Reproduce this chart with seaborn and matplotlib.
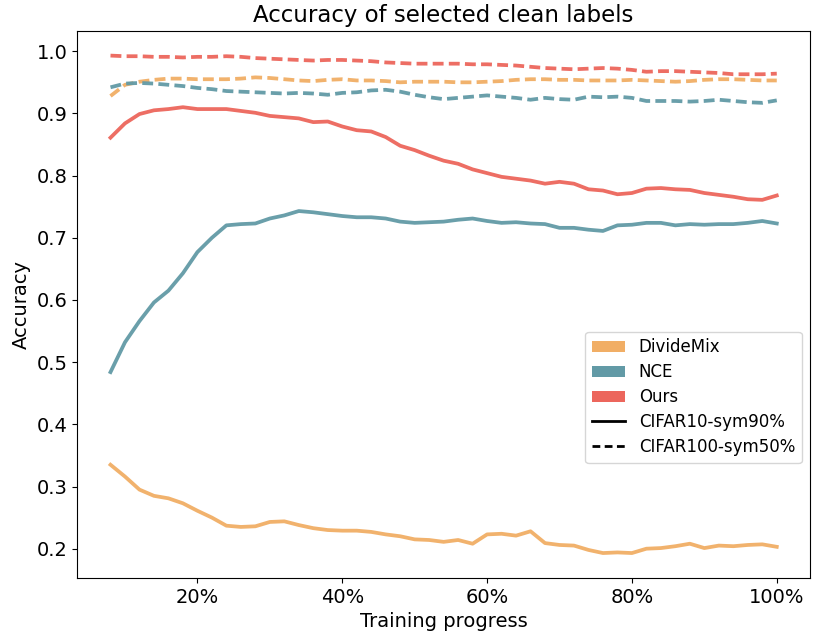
import pandas as pd
import seaborn as sns
import matplotlib.pyplot as plt
from matplotlib.patches import Patch
from matplotlib.lines import Line2D

# ----------------------------------------------
# dades llegides de la figura (progrés en %, accuracy)

progress = list(range(8, 101, 2))

methods = ['DivideMix', 'NCE', 'Ours']
settings = ['CIFAR10-sym90%', 'CIFAR100-sym50%']

dividemix_c10 = [0.335, 0.316, 0.295, 0.285, 0.281, 0.273, 0.261, 0.250, 0.237, 0.235,
                 0.236, 0.243, 0.244, 0.238, 0.233, 0.230, 0.229, 0.229, 0.227, 0.223,
                 0.220, 0.215, 0.214, 0.211, 0.214, 0.208, 0.223, 0.224, 0.221, 0.228,
                 0.209, 0.206, 0.205, 0.198, 0.193, 0.194, 0.193, 0.200, 0.201, 0.204,
                 0.208, 0.201, 0.205, 0.204, 0.206, 0.207, 0.203]
nce_c10 = [0.484, 0.532, 0.566, 0.596, 0.615, 0.643, 0.677, 0.700, 0.720, 0.722,
           0.723, 0.731, 0.736, 0.743, 0.741, 0.738, 0.735, 0.733, 0.733, 0.731,
           0.726, 0.724, 0.725, 0.726, 0.729, 0.731, 0.727, 0.724, 0.725, 0.723,
           0.722, 0.716, 0.716, 0.713, 0.711, 0.720, 0.721, 0.724, 0.724, 0.720,
           0.722, 0.721, 0.722, 0.722, 0.724, 0.727, 0.723]
ours_c10 = [0.861, 0.884, 0.899, 0.905, 0.907, 0.910, 0.907, 0.907, 0.907, 0.904,
            0.901, 0.896, 0.894, 0.892, 0.886, 0.887, 0.879, 0.873, 0.871, 0.862,
            0.848, 0.841, 0.832, 0.824, 0.819, 0.810, 0.804, 0.798, 0.795, 0.792,
            0.787, 0.790, 0.787, 0.778, 0.776, 0.770, 0.772, 0.779, 0.780, 0.778,
            0.777, 0.772, 0.769, 0.766, 0.762, 0.761, 0.768]

dividemix_c100 = [0.928, 0.946, 0.951, 0.954, 0.956, 0.956, 0.955, 0.955, 0.955, 0.956,
                  0.958, 0.957, 0.955, 0.953, 0.952, 0.954, 0.955, 0.953, 0.953, 0.952,
                  0.950, 0.951, 0.951, 0.951, 0.950, 0.950, 0.951, 0.952, 0.954, 0.955,
                  0.955, 0.954, 0.954, 0.953, 0.953, 0.953, 0.954, 0.953, 0.952, 0.951,
                  0.952, 0.954, 0.955, 0.955, 0.954, 0.953, 0.953]
nce_c100 = [0.942, 0.948, 0.949, 0.948, 0.946, 0.944, 0.941, 0.939, 0.936, 0.935,
            0.934, 0.933, 0.932, 0.933, 0.932, 0.930, 0.933, 0.934, 0.937, 0.938,
            0.935, 0.930, 0.926, 0.923, 0.925, 0.927, 0.929, 0.927, 0.925, 0.922,
            0.925, 0.923, 0.922, 0.927, 0.926, 0.927, 0.925, 0.920, 0.920, 0.920,
            0.919, 0.920, 0.922, 0.920, 0.918, 0.917, 0.921]
ours_c100 = [0.993, 0.992, 0.992, 0.991, 0.991, 0.990, 0.991, 0.991, 0.992, 0.991,
             0.989, 0.988, 0.987, 0.986, 0.985, 0.986, 0.986, 0.985, 0.984, 0.982,
             0.981, 0.980, 0.980, 0.980, 0.980, 0.979, 0.979, 0.978, 0.977, 0.975,
             0.973, 0.972, 0.971, 0.972, 0.973, 0.972, 0.970, 0.967, 0.968, 0.968,
             0.967, 0.966, 0.965, 0.963, 0.963, 0.963, 0.964]

xticks = [20, 40, 60, 80, 100]
xtick_labels = ['20%', '40%', '60%', '80%', '100%']

colors = {'DivideMix': '#F1AE65', 'NCE': '#629AA6', 'Ours': '#EC665C'}

# ----------------------------------------------

series = {
	('DivideMix', settings[0]): dividemix_c10,
	('NCE', settings[0]): nce_c10,
	('Ours', settings[0]): ours_c10,
	('DivideMix', settings[1]): dividemix_c100,
	('NCE', settings[1]): nce_c100,
	('Ours', settings[1]): ours_c100,
}
frames = []
for (method, setting), values in series.items():
	frames.append(pd.DataFrame({'progress': progress, 'accuracy': values,
								'method': method, 'setting': setting}))
df = pd.concat(frames, ignore_index=True)

plt.rcParams['font.family'] = ['DejaVu Sans']

fig, ax = plt.subplots(figsize=(8.3, 6.4), dpi=100)
fig.subplots_adjust(left=0.093, right=0.976, bottom=0.097, top=0.952)

sns.lineplot(data=df, x='progress', y='accuracy', hue='method', style='setting',
			 palette=colors, dashes={settings[0]: '', settings[1]: (2.9, 1.4)},
			 linewidth=2.7, alpha=0.95, legend=False, ax=ax)

ax.set_xticks(xticks)
ax.set_xticklabels(xtick_labels)
ax.tick_params(labelsize=14)
ax.set_xlabel('Training progress', fontsize=14)
ax.set_ylabel('Accuracy', fontsize=14)
ax.set_title('Accuracy of selected clean labels', fontsize=16.5)

handles = [Patch(facecolor=colors[m], label=m) for m in methods]
handles.append(Line2D([0], [0], color='black', lw=2, label=settings[0]))
handles.append(Line2D([0], [0], color='black', lw=2, dashes=(2.8, 1.6), label=settings[1]))
ax.legend(handles=handles, loc='lower right', bbox_to_anchor=(1.0, 0.195),
		  fontsize=12, labelspacing=0.42)

plt.savefig('out.png')
